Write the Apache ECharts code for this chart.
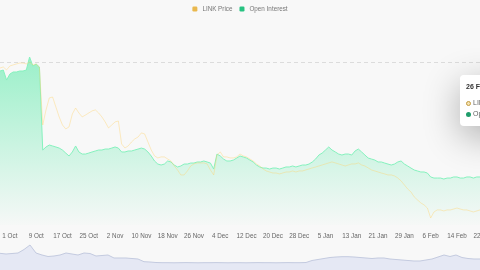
<!DOCTYPE html>
<html><head><meta charset="utf-8">
<script src="https://cdn.jsdelivr.net/npm/echarts@6/dist/echarts.min.js"></script>
<style>html,body{margin:0;padding:0;background:#f8f8f8;overflow:hidden}#c{width:480px;height:270px}</style>
</head><body><div id="c"></div><script>
// Daily categories, 28 Sep 2025 .. 28 Feb 2026
const monthNames = ['Jan','Feb','Mar','Apr','May','Jun','Jul','Aug','Sep','Oct','Nov','Dec'];
const categories = [];
for (let i = 0; i < 154; i++) {
  const d = new Date(Date.UTC(2025, 8, 28 + i));
  categories.push(d.getUTCDate() + ' ' + monthNames[d.getUTCMonth()] + ' ' + d.getUTCFullYear());
}
// LINK price (USD)
const priceValues = [
21.71,21.80,21.54,21.89,21.98,22.07,22.15,22.15,22.07,22.24,
21.98,22.07,21.71,16.68,18.01,19.07,19.15,18.27,17.39,16.68,
16.33,16.51,17.65,18.18,17.74,17.39,17.56,17.74,17.92,18.01,
17.74,17.39,16.95,16.42,16.68,16.95,17.03,15.00,14.65,14.83,
15.18,15.45,15.62,15.98,15.89,15.18,14.47,13.95,13.77,13.86,
13.86,13.68,13.50,13.06,12.71,12.27,12.27,12.62,13.06,13.24,
13.33,13.33,13.33,13.24,12.71,12.27,14.03,14.30,13.86,13.86,
13.77,13.77,13.86,14.12,13.95,13.86,13.68,13.50,13.24,13.06,
12.80,12.62,12.53,12.44,12.44,12.36,12.44,12.53,12.53,12.62,
12.53,12.62,12.62,12.71,12.80,12.89,12.97,13.06,13.15,13.24,
13.33,13.42,13.33,13.24,13.15,13.06,13.15,13.24,13.24,13.33,
13.15,13.06,12.89,12.71,12.62,12.53,12.44,12.36,12.27,12.27,
12.18,12.00,11.74,11.39,11.03,10.77,10.33,10.06,9.80,9.62,
9.35,8.47,9.00,9.18,9.18,9.09,9.18,9.18,9.26,9.35,
9.26,9.18,9.18,9.09,9.00,9.09,9.18,9.26,9.35,9.44,
9.26,9.18,9.35,9.44];
// Open interest (USD millions)
const oiValues = [
1417,1426,1334,1389,1408,1408,1417,1417,1426,1546,
1463,1481,1454,690,718,736,727,718,708,690,
662,635,672,727,672,653,653,662,672,681,
690,690,699,699,708,718,708,672,672,681,
681,690,699,708,699,672,635,589,561,552,
561,589,580,552,534,543,561,561,570,570,
580,580,589,580,570,515,653,635,607,589,
589,598,616,635,626,616,598,580,552,534,
524,524,515,524,524,515,524,534,534,543,
534,543,552,552,561,580,607,644,662,690,
718,690,672,653,644,653,653,644,681,699,
672,644,616,607,598,580,580,570,561,552,
561,580,589,561,543,524,506,497,488,488,
478,442,432,432,432,423,432,432,442,442,
432,432,442,442,432,442,442,442,432,451,
442,432,442,451];
// Overview strip (data-zoom preview) heights
const overviewValues = [
16.7,16,16.5,17,20.5,25,17,15,13.5,14,15,17,16,15,17,16.5,14,14.5,15,12,
12,12,11.5,11,8.3,8,7.5,7.3,
7.3,7.2,7.3,7.4,7.3,7.2,7.3,7.3,7.4,7.3,7.2,7.3,7.3,7.2,7.3,7.4,7.3,7.3,7.2,7.3,7.4,7.3,7.3,7.5,
9.5,10.5,11.5,12.5,13,13.3,13.3,13,12.5,12,11.5,12,12,11,10.5,10,9.5,9,9,10,11,13,15,13.5,15,12.5,11.5,11,11];
const overviewCats = overviewValues.map((v, i) => i);
const tipIndex = categories.indexOf('26 Feb 2026');

const chart = echarts.init(document.getElementById('c'), null, {renderer: 'canvas'});
const font = 'Liberation Sans';
const option = {
  animation: false,
  backgroundColor: '#f8f8f8',
  textStyle: {fontFamily: font},
  legend: {
    top: 1, left: 'center', itemWidth: 5, itemHeight: 5, itemGap: 7, icon: 'roundRect',
    textStyle: {fontSize: 6.3, color: '#777', fontFamily: font},
    data: ['LINK Price', 'Open Interest']
  },
  tooltip: {
    trigger: 'axis', triggerOn: 'none', alwaysShowContent: true, transitionDuration: 0,
    position: [460, 75],
    axisPointer: {type: 'none'},
    backgroundColor: '#ffffff', borderWidth: 0, padding: [8, 8, 7, 6],
    extraCssText: 'box-shadow:0 10px 36px rgba(0,0,0,0.3);border-radius:4px;',
    formatter: function (params) {
      const idx = params[0].dataIndex;
      let h = '<div style="font-family:Liberation Sans;font-size:7px;line-height:8px;color:#333;font-weight:600;margin-bottom:6px">' + categories[idx] + '</div>';
      params.forEach(p => {
        const isPrice = p.seriesName === 'LINK Price';
        const mk = isPrice
          ? '<span style="display:inline-block;width:3px;height:3px;border:1px solid #c39a3e;border-radius:50%;background:#f4e2b2;margin-right:2px;vertical-align:middle"></span>'
          : '<span style="display:inline-block;width:5px;height:5px;border-radius:50%;background:#1f9c6b;margin-right:2px;vertical-align:middle"></span>';
        const val = isPrice ? '$' + p.value.toFixed(2) : '$' + p.value + 'M';
        h += '<div style="font-family:Liberation Sans;font-size:7px;line-height:11px;color:#666;white-space:nowrap">' + mk + p.seriesName + ' <b style="color:#333;margin-left:6px">' + val + '</b></div>';
      });
      return h;
    }
  },
  grid: [
    {left: 0, right: -23, top: 62, bottom: 45, containLabel: false, outerBoundsMode: 'none'},
    {left: 0, right: 0, top: 240, height: 30, containLabel: false, outerBoundsMode: 'none'}
  ],
  xAxis: [
    {
      type: 'category', gridIndex: 0, data: categories, boundaryGap: false,
      axisLine: {show: false}, axisTick: {show: false}, splitLine: {show: false},
      axisLabel: {
        margin: 8, fontSize: 6.3, color: '#666', fontFamily: font,
        interval: (i) => i >= 3 && (i - 3) % 8 === 0,
        formatter: (v) => v.split(' ').slice(0, 2).join(' ')
      }
    },
    {type: 'category', gridIndex: 1, data: overviewCats, boundaryGap: false, show: false}
  ],
  yAxis: [
    {type: 'value', gridIndex: 0, min: 7.85, max: 22.24, show: false},
    {
      type: 'value', gridIndex: 0, min: 0, max: 1500, interval: 1500, position: 'right',
      axisLine: {show: false}, axisTick: {show: false}, axisLabel: {show: false},
      splitLine: {show: true, showMinLine: false, lineStyle: {type: [4, 3], color: '#dcdcdc', width: 1}}
    },
    {type: 'value', gridIndex: 1, min: 0, max: 30, show: false}
  ],
  series: [
    {
      name: 'LINK Price', type: 'line', xAxisIndex: 0, yAxisIndex: 0, data: priceValues,
      showSymbol: false, symbol: 'circle', clip: false, z: 4,
      itemStyle: {color: '#e9b84e'},
      lineStyle: {color: 'rgba(240,192,95,0.4)', width: 1}
    },
    {
      name: 'Open Interest', type: 'line', xAxisIndex: 0, yAxisIndex: 1, data: oiValues,
      showSymbol: false, symbol: 'circle', clip: false, z: 3,
      itemStyle: {color: '#27c281'},
      lineStyle: {color: '#7adcad', width: 1},
      areaStyle: {
        color: new echarts.graphic.LinearGradient(0, 0, 0, 1, [
          {offset: 0, color: 'rgba(70,212,148,0.78)'},
          {offset: 1, color: 'rgba(70,212,148,0.02)'}
        ])
      }
    },
    {
      name: 'overview', type: 'line', xAxisIndex: 1, yAxisIndex: 2, data: overviewValues,
      showSymbol: false, silent: true, legendHoverLink: false,
      lineStyle: {color: '#c3cadf', width: 1},
      areaStyle: {color: '#e5e8f4', opacity: 1},
      tooltip: {show: false}
    }
  ]
};
chart.setOption(option);
chart.dispatchAction({type: 'showTip', seriesIndex: 1, dataIndex: tipIndex});
</script></body></html>
